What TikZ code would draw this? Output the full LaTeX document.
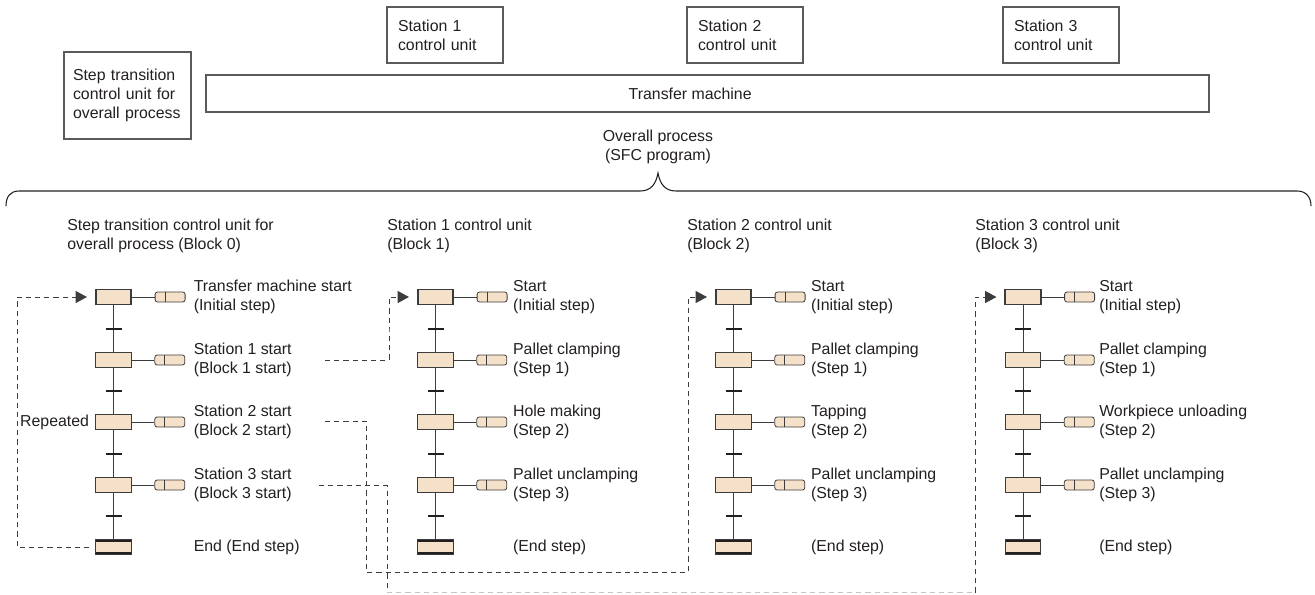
\documentclass[tikz,border=0pt]{standalone}
\usepackage{fontspec}
\setmainfont{Liberation Sans}
\usetikzlibrary{arrows.meta,positioning}
\definecolor{sfcink}{HTML}{231F20}
\definecolor{sfcline}{HTML}{3C3C3C}
\definecolor{sfcframe}{HTML}{5A5A5A}
\definecolor{sfcfill}{HTML}{F5E1CA}
\definecolor{sfcfaint}{HTML}{C4C4C4}

\begin{document}
\begin{tikzpicture}[
  x=0.75pt,
  y=-0.75pt,
  every node/.style={font=\fontsize{11.9}{14.4}\selectfont, sfcink},
  framebox/.style={draw=sfcframe, line width=0.9pt, inner sep=0pt},
  unitbox/.style={framebox, align=left, inner xsep=8.25pt, text width=70.5pt, minimum height=42pt},
  stepbox/.style={draw=sfcline, line width=0.8pt, fill=sfcfill, minimum width=26.5pt, minimum height=11.25pt, inner sep=0pt},
  initstep/.style={stepbox, line width=1.3pt},
  endstep/.style={stepbox, path picture={
      \draw[sfcink, line width=3.4pt]
        (path picture bounding box.north west) -- (path picture bounding box.north east)
        (path picture bounding box.south west) -- (path picture bounding box.south east);}},
  actbox/.style={draw=sfcline, line width=0.6pt, fill=sfcfill, rounded corners=1.8pt,
      minimum width=22.5pt, minimum height=7.5pt, inner sep=0pt, path picture={
      \draw[sfcline, line width=0.6pt]
        ([xshift=7.5pt]path picture bounding box.north west) -- ([xshift=7.5pt]path picture bounding box.south west);}},
  steplabel/.style={anchor=west, align=left, inner sep=0pt},
  rung/.style={sfcline, line width=0.7pt},
  tick/.style={sfcink, line width=1.5pt},
  brace/.style={sfcink, line width=0.8pt},
  link/.style={sfcline, line width=0.75pt, dash pattern=on 3.9pt off 3pt},
  linkarrow/.style={link, -{Triangle[length=8.5pt, width=9pt]}, shorten >=6pt}
]
  % ---- page frame, same size as the 1315 x 594 original ----
  \path (0,0) rectangle (1315,594);

  % ---- machine overview ----
  \node[framebox, align=left, inner xsep=6.75pt, text width=81.75pt, minimum height=65.25pt]
    (U0) at (127.5,95.5) {Step transition\\control unit for\\overall process};
  \node[unitbox] (U1) at (445,35) {Station 1\\control unit};
  \node[unitbox] (U2) at (745,35) {Station 2\\control unit};
  \node[unitbox] (U3) at (1061,35) {Station 3\\control unit};
  \node[framebox, minimum width=752.25pt, minimum height=27.75pt,
        label={[xshift=-13pt]center:Transfer machine}] (TM) at (707.5,93.5) {};

  \node[align=center, inner sep=0pt] (OP) at (658,147) {Overall process\\(SFC program)};
  \draw[brace] (6,206) .. controls (6,197) and (10,191) .. (19,191) -- (640,191)
    .. controls (651,191) and (656,184) .. (658,173)
    .. controls (660,184) and (665,191) .. (676,191) -- (1297,191)
    .. controls (1306,191) and (1311,197) .. (1311,206);

  % ---- block headings ----
  \node[steplabel] (H0) at (67,236) {Step transition control unit for\\overall process (Block 0)};
  \node[steplabel] (H1) at (387,236) {Station 1 control unit\\(Block 1)};
  \node[steplabel] (H2) at (687,236) {Station 2 control unit\\(Block 2)};
  \node[steplabel] (H3) at (975,236) {Station 3 control unit\\(Block 3)};

  % ---- the four SFC columns ----
  \foreach \c/\cx in {0/113.5, 1/435.5, 2/733.5, 3/1023} {
    \node[initstep] (S\c-1) at (\cx,297) {};
    \node[stepbox] (S\c-2) at (\cx,360) {};
    \node[stepbox] (S\c-3) at (\cx,422) {};
    \node[stepbox] (S\c-4) at (\cx,485) {};
    \node[endstep] (E\c) at (\cx,547) {};
    \foreach \r/\n in {1/S\c-2, 2/S\c-3, 3/S\c-4, 4/E\c} {
      \draw[rung] (S\c-\r.south) -- (\n.north) coordinate[midway] (T\c-\r);
      \draw[tick] ([xshift=-6pt]T\c-\r) -- ([xshift=6pt]T\c-\r);
    }
    \foreach \r in {1,...,4} {
      \node[actbox, right=17pt of S\c-\r] (A\c-\r) {};
      \draw[rung] (S\c-\r.east) -- (A\c-\r.west);
    }
  }

  % ---- step texts ----
  \node[steplabel] (L0-1) at ([xshift=60pt]S0-1.center) {Transfer machine start\\(Initial step)};
  \node[steplabel] (L0-2) at ([xshift=60pt]S0-2.center) {Station 1 start\\(Block 1 start)};
  \node[steplabel] (L0-3) at ([xshift=60pt]S0-3.center) {Station 2 start\\(Block 2 start)};
  \node[steplabel] (L0-4) at ([xshift=60pt]S0-4.center) {Station 3 start\\(Block 3 start)};
  \node[steplabel] (L0-5) at ([xshift=60pt]E0.center) {End (End step)};
  \node[anchor=east, inner sep=0pt] (rep) at ([xshift=-4.5pt]S0-3.west) {Repeated};

  \node[steplabel] (L1-1) at ([xshift=58pt]S1-1.center) {Start\\(Initial step)};
  \node[steplabel] (L1-2) at ([xshift=58pt]S1-2.center) {Pallet clamping\\(Step 1)};
  \node[steplabel] (L1-3) at ([xshift=58pt]S1-3.center) {Hole making\\(Step 2)};
  \node[steplabel] (L1-4) at ([xshift=58pt]S1-4.center) {Pallet unclamping\\(Step 3)};
  \node[steplabel] (L1-5) at ([xshift=58pt]E1.center) {(End step)};

  \node[steplabel] (L2-1) at ([xshift=58pt]S2-1.center) {Start\\(Initial step)};
  \node[steplabel] (L2-2) at ([xshift=58pt]S2-2.center) {Pallet clamping\\(Step 1)};
  \node[steplabel] (L2-3) at ([xshift=58pt]S2-3.center) {Tapping\\(Step 2)};
  \node[steplabel] (L2-4) at ([xshift=58pt]S2-4.center) {Pallet unclamping\\(Step 3)};
  \node[steplabel] (L2-5) at ([xshift=58pt]E2.center) {(End step)};

  \node[steplabel] (L3-1) at ([xshift=57pt]S3-1.center) {Start\\(Initial step)};
  \node[steplabel] (L3-2) at ([xshift=57pt]S3-2.center) {Pallet clamping\\(Step 1)};
  \node[steplabel] (L3-3) at ([xshift=57pt]S3-3.center) {Workpiece unloading\\(Step 2)};
  \node[steplabel] (L3-4) at ([xshift=57pt]S3-4.center) {Pallet unclamping\\(Step 3)};
  \node[steplabel] (L3-5) at ([xshift=57pt]E3.center) {(End step)};

  % ---- dashed start links ----
  \coordinate (loop0) at (17,420);
  \draw[linkarrow, shorten <=4.5pt] (E0.west) -| (loop0) |- (S0-1.west);

  \coordinate (go1) at (325,360);
  \coordinate (up1) at (389,330);
  \draw[linkarrow] (go1) -| (up1) |- (S1-1.west);

  \coordinate (go2) at (325,421);
  \coordinate (dn2) at (366,572);
  \coordinate (up2) at (688,572);
  \draw[linkarrow] (go2) -| (dn2) -- (up2) |- (S2-1.west);

  \coordinate (go3) at (319,485);
  \coordinate (dn3) at (387,592.5);
  \coordinate (up3) at (975,592.5);
  \draw[link] (go3) -| (dn3);
  \draw[link, sfcfaint] (dn3) -- (up3);
  \draw[linkarrow] (up3) |- (S3-1.west);
\end{tikzpicture}
\end{document}
